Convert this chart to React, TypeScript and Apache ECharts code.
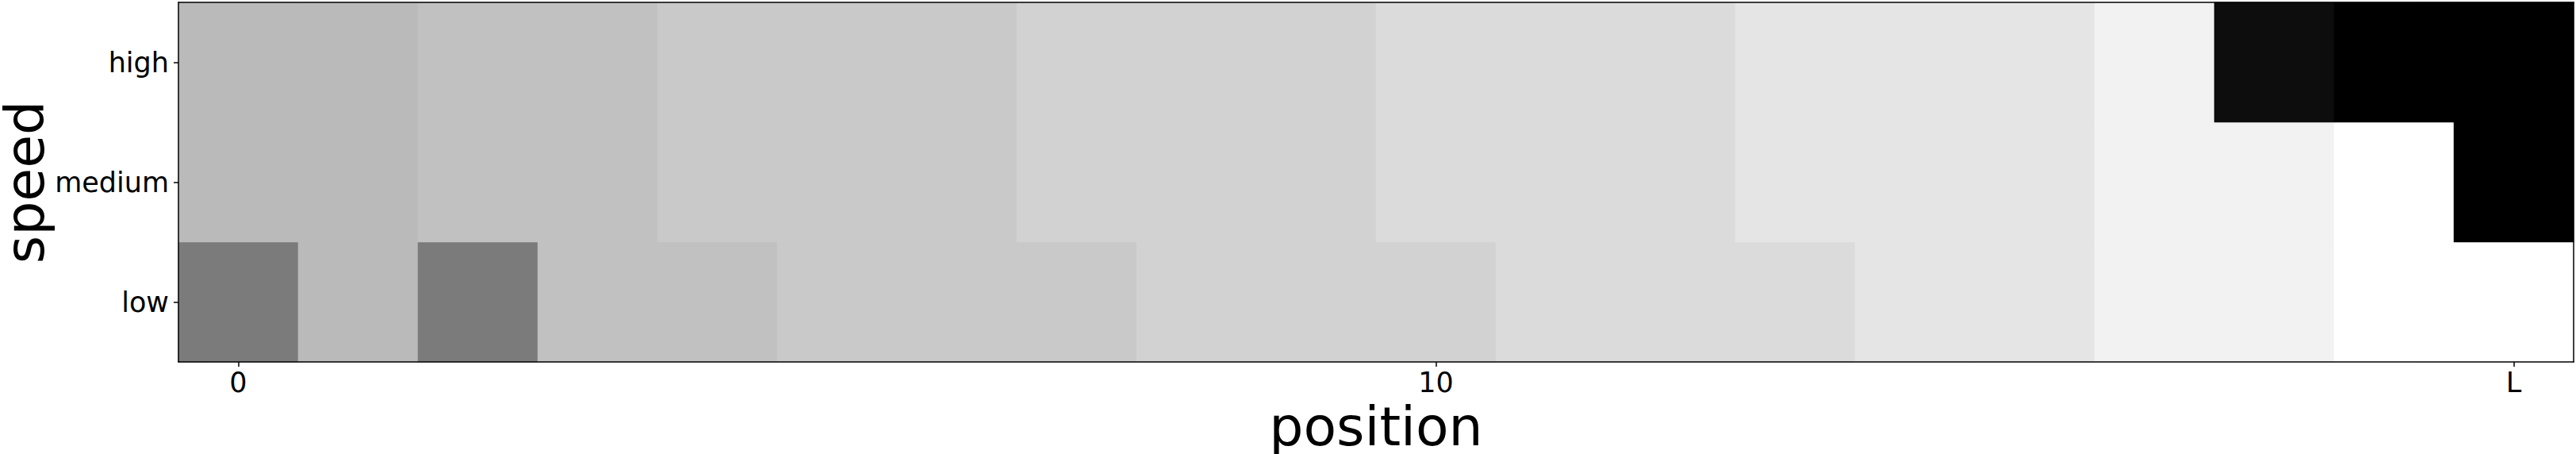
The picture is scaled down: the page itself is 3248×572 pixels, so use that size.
import React, { useEffect, useRef } from "react";
import * as echarts from "echarts";

// x categories (positions); the last one is labelled "L"
const positions: string[] = [
  "0", "1", "2", "3", "4", "5", "6", "7", "8", "9",
  "10", "11", "12", "13", "14", "15", "16", "17", "18", "L",
];
const shownXTicks: string[] = ["0", "10", "L"];
const speeds: string[] = ["low", "medium", "high"];

// grey level of every cell (0 = black, 1 = white), one array per speed
const lowRow: number[] = [
  0.482, 0.729, 0.482, 0.757, 0.757, 0.788, 0.788, 0.788, 0.824, 0.824,
  0.824, 0.859, 0.859, 0.859, 0.898, 0.898, 0.949, 0.949, 1.0, 1.0,
];
const mediumRow: number[] = [
  0.729, 0.729, 0.757, 0.757, 0.788, 0.788, 0.788, 0.824, 0.824, 0.824,
  0.859, 0.859, 0.859, 0.898, 0.898, 0.898, 0.949, 0.949, 1.0, 0.0,
];
const highRow: number[] = [
  0.729, 0.729, 0.757, 0.757, 0.788, 0.788, 0.788, 0.824, 0.824, 0.824,
  0.859, 0.859, 0.859, 0.898, 0.898, 0.898, 0.949, 0.051, 0.0, 0.0,
];

const FONT = "DejaVu Sans";

export default function App() {
  const ref = useRef<HTMLDivElement>(null);
  useEffect(() => {
    if (!ref.current) return;
    const chart = echarts.init(ref.current, null, { renderer: "svg" });
    const rows = [lowRow, mediumRow, highRow];
    const data: [number, number, number][] = [];
    rows.forEach((row, yi) => row.forEach((v, xi) => data.push([xi, yi, v])));

    const showX = (idx: number) => shownXTicks.includes(positions[idx]);

    chart.setOption({
      animation: false,
      backgroundColor: "#ffffff",
      grid: {
        left: 225,
        right: 3,
        top: 3,
        bottom: 116,
        containLabel: false,
        outerBoundsMode: "none",
      },
      visualMap: {
        show: false,
        min: 0,
        max: 1,
        dimension: 2,
        inRange: { color: ["#000000", "#ffffff"] },
      },
      xAxis: [
        {
          type: "category",
          data: positions,
          name: "position",
          nameLocation: "middle",
          nameGap: 47,
          nameMoveOverlap: false,
          nameTextStyle: {
            fontFamily: FONT,
            fontSize: 68,
            lineHeight: 68,
            color: "#000",
          },
          axisLine: { show: true, lineStyle: { color: "#000", width: 1.5 } },
          axisTick: {
            show: true,
            alignWithLabel: true,
            length: 6,
            interval: (idx: number) => showX(idx),
            lineStyle: { color: "#000", width: 1.5 },
          },
          axisLabel: {
            interval: (idx: number) => showX(idx),
            fontFamily: FONT,
            fontSize: 35,
            color: "#000",
            margin: 8,
          },
          splitLine: { show: false },
          z: 10,
        },
        {
          type: "category",
          data: positions,
          position: "top",
          axisLine: { show: true, lineStyle: { color: "#000", width: 1.5 } },
          axisTick: { show: false },
          axisLabel: { show: false },
          z: 10,
        },
      ],
      yAxis: [
        {
          type: "category",
          data: speeds,
          name: "speed",
          nameLocation: "middle",
          nameGap: 160,
          nameMoveOverlap: false,
          nameTextStyle: {
            fontFamily: FONT,
            fontSize: 68,
            lineHeight: 68,
            color: "#000",
          },
          axisLine: { show: true, lineStyle: { color: "#000", width: 1.5 } },
          axisTick: {
            show: true,
            alignWithLabel: true,
            length: 6,
            lineStyle: { color: "#000", width: 1.5 },
          },
          axisLabel: {
            fontFamily: FONT,
            fontSize: 35,
            color: "#000",
            margin: 12,
          },
          splitLine: { show: false },
          z: 10,
        },
        {
          type: "category",
          data: speeds,
          position: "right",
          axisLine: { show: true, lineStyle: { color: "#000", width: 1.5 } },
          axisTick: { show: false },
          axisLabel: { show: false },
          z: 10,
        },
      ],
      series: [
        {
          type: "heatmap",
          xAxisIndex: 0,
          yAxisIndex: 0,
          data,
          itemStyle: { borderWidth: 0 },
          emphasis: { disabled: true },
          z: 1,
        },
      ],
    });
    return () => chart.dispose();
  }, []);
  return (
    <div
      ref={ref}
      style={{ position: "fixed", left: 0, top: 0, width: 3248, height: 572 }}
    />
  );
}
